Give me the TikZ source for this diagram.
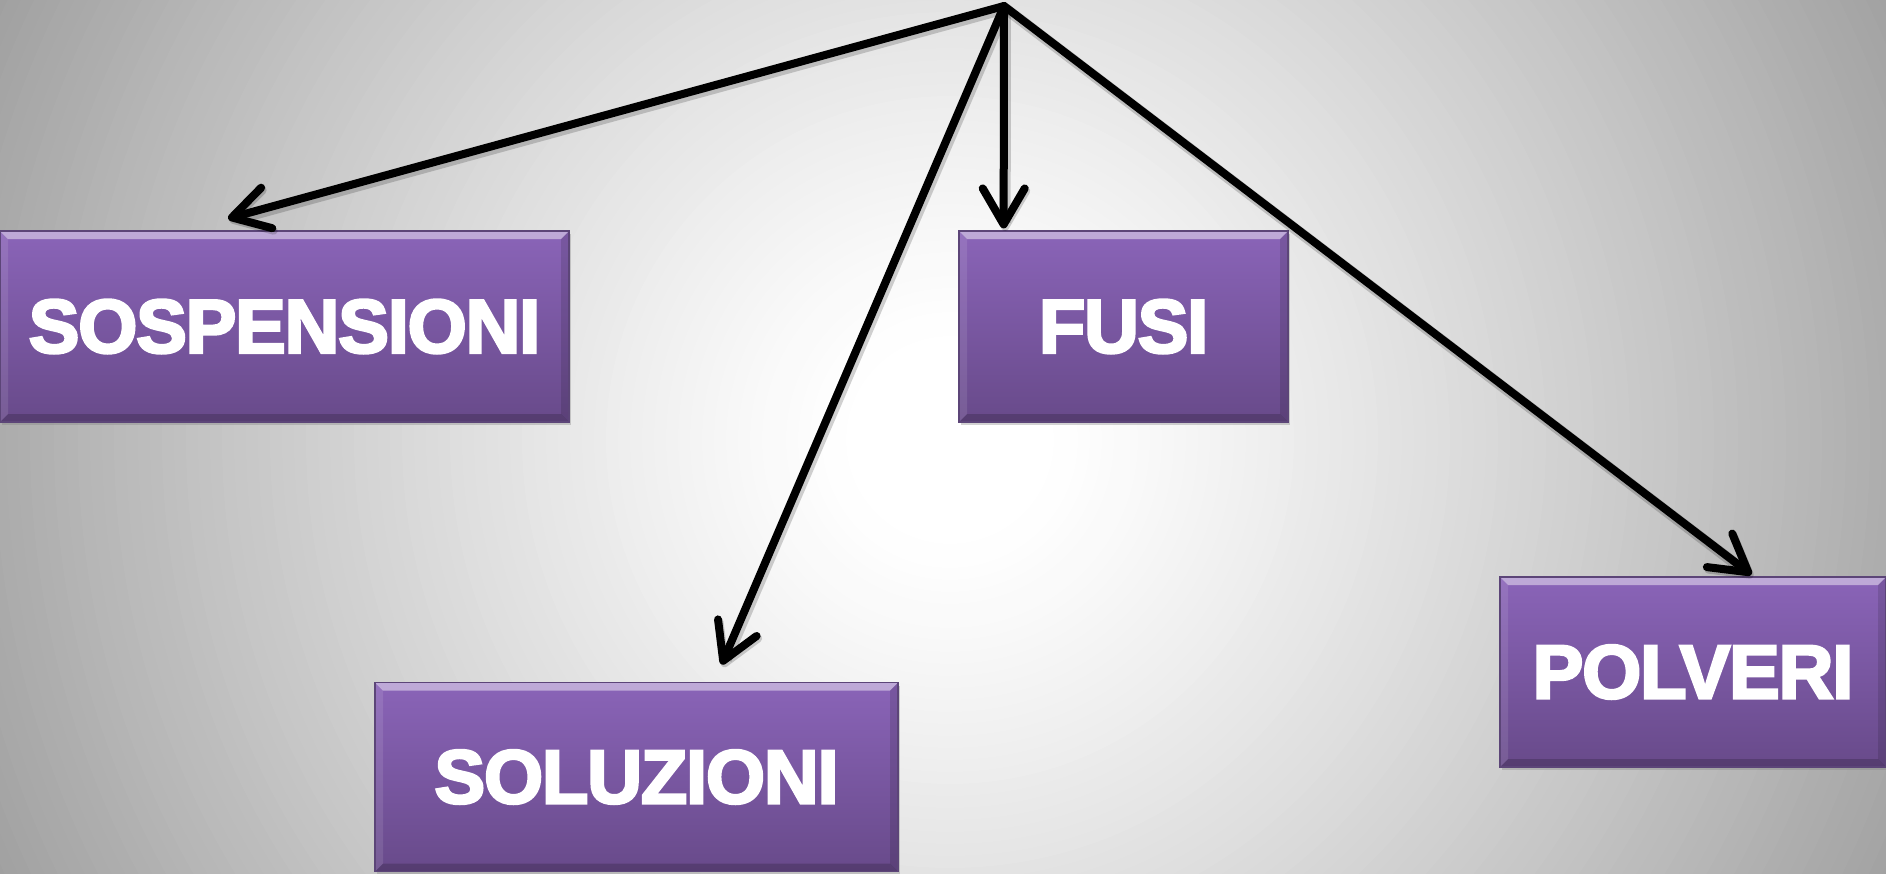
\documentclass[tikz,border=0pt]{standalone}
\usepackage{fontspec}
\setmainfont{Liberation Sans}
\newfontfamily\boxfont[FakeBold=3.5,LetterSpace=-1.6]{Liberation Sans}
\usetikzlibrary{arrows.meta,shadows,calc}
\definecolor{boxtop}{HTML}{8A64B8}
\definecolor{boxbot}{HTML}{684A8A}
\definecolor{boxedge}{HTML}{5C4578}
\tikzset{
  catbox/.style={draw=boxedge, line width=1.2pt, top color=boxtop, bottom color=boxbot,
    text=white, font=\boxfont\fontsize{76}{80}\selectfont\bfseries, inner sep=0pt,
    drop shadow={shadow xshift=2pt,shadow yshift=-3pt,opacity=0.35},
    path picture={
      \fill[white,opacity=0.45] (path picture bounding box.north west) -- (path picture bounding box.north east)
        -- ([shift={(-8pt,-8pt)}]path picture bounding box.north east) -- ([shift={(8pt,-8pt)}]path picture bounding box.north west) -- cycle;
      \fill[black,opacity=0.18] (path picture bounding box.south west) -- (path picture bounding box.south east)
        -- ([shift={(-8pt,8pt)}]path picture bounding box.south east) -- ([shift={(8pt,8pt)}]path picture bounding box.south west) -- cycle;
      \fill[white,opacity=0.1] (path picture bounding box.north west) -- (path picture bounding box.south west)
        -- ([shift={(8pt,8pt)}]path picture bounding box.south west) -- ([shift={(8pt,-8pt)}]path picture bounding box.north west) -- cycle;
      \fill[black,opacity=0.12] (path picture bounding box.north east) -- (path picture bounding box.south east)
        -- ([shift={(-8pt,8pt)}]path picture bounding box.south east) -- ([shift={(-8pt,-8pt)}]path picture bounding box.north east) -- cycle;
    }},
  conn/.style={line width=8pt, -{Straight Barb[length=36pt,width=42pt,line width=8pt,round]}, line cap=round, line join=round,
    preaction={draw=black, draw opacity=0.18, line width=11pt, transform canvas={shift={(1.5pt,-2.5pt)}}}}
}
\begin{document}
\begin{tikzpicture}[x=1pt,y=-1pt]
  \useasboundingbox (0,0) rectangle (1886,873);
  \begin{scope}
    \clip (0,0) rectangle (1886,873);
    \fill[white] (0,0) rectangle (1886,873);
    \foreach \i in {0,...,84} {
      \pgfmathsetmacro\rr{1100-12*\i}
      \pgfmathsetmacro\pp{37*(max(0,\rr-100)/950)^1.2}
      \fill[black!\pp!white] (950,440) circle (\rr);
    }
  \end{scope}
  \node[catbox, minimum width=569pt, minimum height=191pt] (sosp) at (284.5,326.5) {SOSPENSIONI};
  \node[catbox, minimum width=329pt, minimum height=191pt] (fusi) at (1123.5,326.5) {FUSI};
  \node[catbox, minimum width=523pt, minimum height=189pt] (solu) at (636.5,777) {SOLUZIONI};
  \node[catbox, minimum width=386pt, minimum height=190pt] (polv) at (1693,672) {POLVERI};
  \coordinate (apex) at (1004,6);
  \draw[conn, shorten >=45pt] (apex) -- ($(sosp.north west)!0.325!(sosp.north east)$);
  \draw[conn, shorten >=2pt] (apex) -- ($(fusi.north west)!0.137!(fusi.north east)$);
  \draw[conn, shorten >=19pt] (apex) -- ($(solu.north west)!0.648!(solu.north east)$);
  \draw[conn, shorten >=3pt] (apex) -- ($(polv.north west)!0.657!(polv.north east)$);
\end{tikzpicture}
\end{document}
